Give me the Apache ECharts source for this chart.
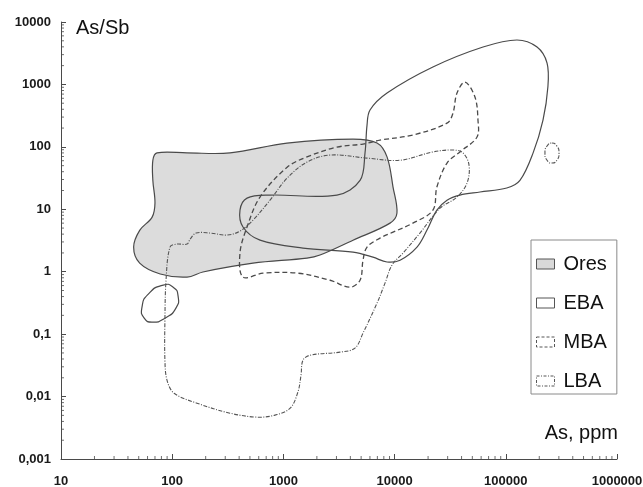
<!DOCTYPE html>
<html>
<head>
<meta charset="utf-8">
<script src="https://cdn.jsdelivr.net/npm/echarts@6/dist/echarts.min.js"></script>
<style>
html,body{margin:0;padding:0;background:#fff;}
#chart{width:643px;height:487px;}
</style>
</head>
<body>
<div id="chart"></div>
<script>
// Tick labels
const xTickLabels = ['10','100','1000','10000','100000','1000000'];
const yTickLabels = ['0,001','0,01','0,1','1','10','100','1000','10000'];

// Ores field (As ppm, As/Sb)
const oresAs = [73,136,331,1077,4227,6950,8550,9680,10500,9100,4227,2133,1630,533,189,136,78,51,45,51,66,70,67,67];
const oresRatio = [80,80,80,115,133,115,69,22.7,8.7,6.0,3.2,1.85,1.65,1.37,0.99,0.82,0.92,1.37,2.48,4.6,7.5,12.6,29,61];

// EBA field (main + small ellipse)
const ebaAs = [5650,6010,8550,22100,62400,126000,191000,235000,239000,216000,176000,134000,102000,58600,38700,29600,24000,19500,15900,11200,8550,6390,4230,1500,616,433,407,471,758,3030,4890,5420];
const ebaRatio = [223,389,728,1900,3970,5150,3970,2200,908,269,80,29,21.9,18.9,16.9,14.0,9.7,4.6,2.48,1.53,1.43,1.71,2.06,2.39,3.2,5.2,9.7,15.1,16.9,16.9,29,80];
const ebaSmallAs = [83,102,113,108,86,67,56,53.5,61];
const ebaSmallRatio = [0.61,0.566,0.406,0.261,0.18,0.156,0.18,0.271,0.438];

// MBA field
const mbaAs = [43000,52800,56200,55100,38700,29600,24000,22100,14600,9680,7390,5650,5200,4890,3970,2630,1330,656,433,407,471,616,1080,1630,3030,5200,7390,14600,29600,33500,36400];
const mbaRatio = [1090,628,269,144,83,55,22.7,9.7,6.0,4.3,3.45,2.48,1.53,0.73,0.566,0.73,0.95,0.95,0.82,1.99,5.2,15.7,47,69,99,111,128,155,240,348,728];

// LBA field (main + small ellipse)
const lbaAs = [95.5,110,136,145,164,219,311,407,533,758,1080,1630,2630,5650,11200,22100,33500,41200,46700,44800,36400,25600,16900,11900,9480,8200,6950,5200,4400,3230,1740,1500,1440,1350,1150,840,579,331,167,104,89.8,86,86,88];
const lbaRatio = [2.48,2.77,2.77,3.33,4.16,4.16,3.86,4.47,6.7,14,31.6,57,74,66,61,83,89,80,51,26.3,15.7,10.4,4.16,1.99,1.28,0.656,0.314,0.104,0.0597,0.0515,0.046,0.0383,0.022,0.0118,0.00652,0.00504,0.00468,0.00542,0.00784,0.0113,0.0183,0.0383,0.168,0.73];
const lbaSmallAs = [260000,288000,301000,288000,260000,235000,225000,235000];
const lbaSmallRatio = [115,103,80,61,55,61,80,103];

// Minor tick positions (2..9 within each decade)
const xMinorTicks = [];
for (let e = 1; e < 6; e++) for (let k = 2; k <= 9; k++) xMinorTicks.push(k * Math.pow(10, e));
const yMinorTicks = [];
for (let e = -3; e < 4; e++) for (let k = 2; k <= 9; k++) yMinorTicks.push(k * Math.pow(10, e));

const FONT = 'Liberation Sans, Arial, sans-serif';
const LINE = '#4a4a4a';

function polyOf(api, xs, ys, smooth, style) {
  const pts = xs.map((x, i) => api.coord([x, ys[i]]));
  return { type: 'polygon', shape: { points: pts, smooth: smooth }, style: style };
}

function shapeSeries(name, parts, style, z) {
  return {
    type: 'custom', name: name, silent: true, z: z,
    coordinateSystem: 'cartesian2d',
    data: [[1000, 1]],
    renderItem: function (params, api) {
      return { type: 'group', children: parts.map(p => polyOf(api, p[0], p[1], p[2], style)) };
    }
  };
}

const chart = echarts.init(document.getElementById('chart'), null, { renderer: 'canvas' });
chart.setOption({
  animation: false,
  backgroundColor: '#fff',
  grid: { left: 61, right: 26, top: 22, bottom: 28, containLabel: false, outerBoundsMode: 'none' },
  xAxis: {
    type: 'log', logBase: 10, min: 10, max: 1000000, interval: 1,
    axisLine: { show: true, lineStyle: { color: LINE, width: 1 } },
    axisTick: { show: true, inside: true, length: 5, lineStyle: { color: LINE, width: 1 } },
    splitLine: { show: false },
    axisLabel: {
      margin: 16, color: '#1a1a1a', fontSize: 13, fontWeight: 'bold', fontFamily: FONT,
      formatter: v => xTickLabels[Math.round(Math.log10(v)) - 1]
    }
  },
  yAxis: {
    type: 'log', logBase: 10, min: 0.001, max: 10000, interval: 1,
    axisLine: { show: true, lineStyle: { color: LINE, width: 1 } },
    axisTick: { show: true, inside: true, length: 5, lineStyle: { color: LINE, width: 1 } },
    splitLine: { show: false },
    axisLabel: {
      margin: 10, color: '#1a1a1a', fontSize: 13, fontWeight: 'bold', fontFamily: FONT,
      formatter: v => yTickLabels[Math.round(Math.log10(v)) + 3]
    }
  },
  legend: {
    orient: 'vertical', left: 531, top: 240,
    padding: [14, 10, 3, 5],
    itemWidth: 18, itemHeight: 10, itemGap: 19,
    borderColor: '#8a8a8a', borderWidth: 1,
    selectedMode: false,
    textStyle: { fontSize: 20, fontFamily: FONT, color: '#111', padding: [0, 0, 0, 4] },
    data: [
      { name: 'Ores', icon: 'rect', itemStyle: { color: '#d9d9d9', borderColor: '#555', borderWidth: 1 } },
      { name: 'EBA', icon: 'rect', itemStyle: { color: '#fff', borderColor: '#555', borderWidth: 1 } },
      { name: 'MBA', icon: 'rect', itemStyle: { color: '#fff', borderColor: '#555', borderWidth: 1, borderType: [3, 2] } },
      { name: 'LBA', icon: 'rect', itemStyle: { color: '#fff', borderColor: '#555', borderWidth: 1, borderType: [3, 1.5, 1, 1.5] } }
    ]
  },
  graphic: [
    { type: 'text', left: 76, top: 18, style: { text: 'As/Sb', font: '20px ' + FONT, fill: '#111' } },
    { type: 'text', right: 25, top: 423, style: { text: 'As, ppm', font: '20px ' + FONT, fill: '#111' } }
  ],
  series: [
    shapeSeries('Ores', [[oresAs, oresRatio, 0.35]], { fill: '#dcdcdc', stroke: LINE, lineWidth: 1.2 }, 2),
    shapeSeries('EBA', [[ebaAs, ebaRatio, 0.35], [ebaSmallAs, ebaSmallRatio, 0.6]], { fill: 'none', stroke: LINE, lineWidth: 1.2 }, 3),
    shapeSeries('MBA', [[mbaAs, mbaRatio, 0.35]], { fill: 'none', stroke: LINE, lineWidth: 1.3, lineDash: [5, 3] }, 3),
    shapeSeries('LBA', [[lbaAs, lbaRatio, 0.35], [lbaSmallAs, lbaSmallRatio, 0.6]], { fill: 'none', stroke: '#555', lineWidth: 1.1, lineDash: [4, 1.5, 1, 1.5] }, 3),
    {
      type: 'scatter', silent: true, clip: false, z: 6,
      symbol: 'rect', symbolSize: [1, 3], symbolOffset: [0, -1.5],
      itemStyle: { color: LINE },
      data: xMinorTicks.map(v => [v, 0.001])
    },
    {
      type: 'scatter', silent: true, clip: false, z: 6,
      symbol: 'rect', symbolSize: [3, 1], symbolOffset: [1.5, 0],
      itemStyle: { color: LINE },
      data: yMinorTicks.map(v => [10, v])
    }
  ]
});
</script>
</body>
</html>
